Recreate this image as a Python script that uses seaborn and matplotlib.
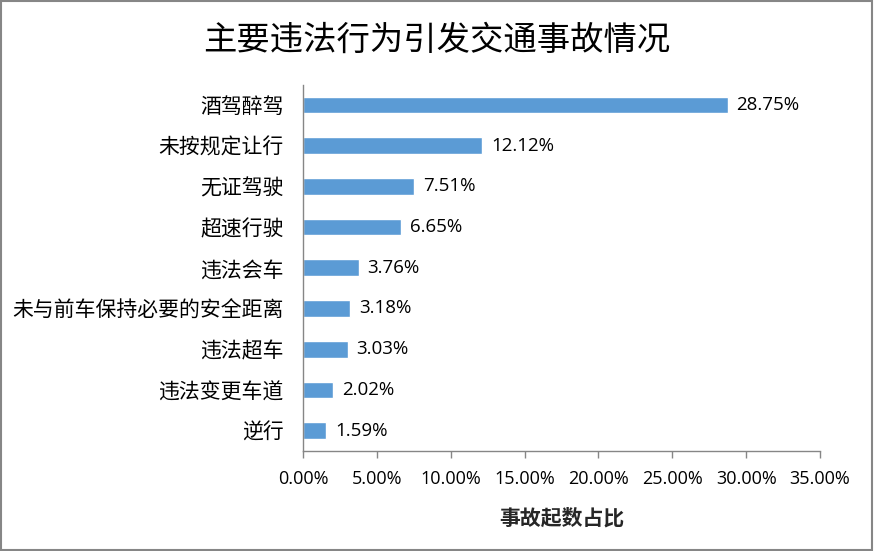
import matplotlib
matplotlib.use('Agg')
import matplotlib.pyplot as plt
import seaborn as sns
import pandas as pd
from matplotlib.ticker import FuncFormatter
from matplotlib.patches import Rectangle

# 数据
categories = ['酒驾醉驾', '未按规定让行', '无证驾驶', '超速行驶', '违法会车',
              '未与前车保持必要的安全距离', '违法超车', '违法变更车道', '逆行']
values = [28.75, 12.12, 7.51, 6.65, 3.76, 3.18, 3.03, 2.02, 1.59]
x_ticks = [0, 5, 10, 15, 20, 25, 30, 35]

df = pd.DataFrame({'category': categories, 'value': values})

sns.set_theme(style='white')
plt.rcParams['font.family'] = ['Noto Sans CJK SC', 'DejaVu Sans']

fig = plt.figure(figsize=(8.74, 5.51), dpi=100)
ax = fig.add_axes([303 / 874, 100 / 551, 517 / 874, 366.5 / 551])

sns.barplot(data=df, x='value', y='category', color='#5B9BD5', width=0.41,
            saturation=1, ax=ax)

num_font = ['Open Sans', 'DejaVu Sans']
for i, v in enumerate(values):
    ax.text(v + 0.6, i, f'{v:.2f}%', va='center', ha='left', fontsize=13.5,
            color='black', family=num_font)

ax.set_xlim(0, 35)
ax.set_xticks(x_ticks)
ax.xaxis.set_major_formatter(FuncFormatter(lambda x, p: f'{x:.2f}%'))
for lab in ax.get_xticklabels():
    lab.set_family(num_font)
ax.tick_params(axis='x', labelsize=13, colors='#868686', labelcolor='black',
               length=5, width=1, direction='out', bottom=True, pad=9)
ax.tick_params(axis='y', labelsize=15, length=0, pad=14, labelcolor='black')

ax.set_ylabel('')
ax.set_xlabel('事故起数占比', fontsize=15, fontweight='bold', labelpad=14)

for s in ['top', 'right']:
    ax.spines[s].set_visible(False)
for s in ['left', 'bottom']:
    ax.spines[s].set_color('#868686')
    ax.spines[s].set_linewidth(1)

fig.text(0.5, 1 - 40 / 551, '主要违法行为引发交通事故情况', ha='center', va='center',
         fontsize=24, color='black')

fig.patches.append(Rectangle((0.001, 0.001), 0.997, 0.997, transform=fig.transFigure,
                             fill=False, edgecolor='#868686', linewidth=1.5))

fig.savefig('out.png', dpi=100)
